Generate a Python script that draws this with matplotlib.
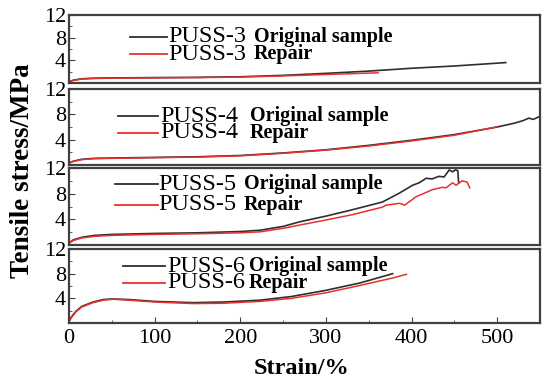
import numpy as np
import matplotlib
matplotlib.use('Agg')
import matplotlib.pyplot as plt
from matplotlib.ticker import MultipleLocator

plt.rcParams['font.family'] = 'Liberation Serif'

# datos (deformacion %, tension MPa)
puss3_orig_x = [0, 5, 15, 30, 50, 100, 150, 200, 250, 300, 350, 400, 450, 510]
puss3_orig_y = [0.2, 0.5, 0.75, 0.85, 0.9, 0.95, 1.0, 1.1, 1.35, 1.7, 2.1, 2.6, 3.0, 3.6]
puss3_rep_x = [0, 5, 15, 30, 50, 100, 150, 200, 250, 300, 361]
puss3_rep_y = [0.2, 0.45, 0.7, 0.8, 0.85, 0.9, 0.95, 1.05, 1.25, 1.5, 1.8]

puss4_orig_x = [0, 5, 15, 30, 50, 100, 150, 200, 250, 300, 350, 400, 450, 500, 520, 530, 537, 542, 547, 550]
puss4_orig_y = [0.3, 0.6, 0.9, 1.05, 1.1, 1.2, 1.3, 1.5, 1.9, 2.4, 3.1, 3.9, 4.8, 6.0, 6.6, 7.0, 7.4, 7.2, 7.5, 7.7]
puss4_rep_x = [0, 5, 15, 30, 50, 100, 150, 200, 250, 300, 350, 400, 450, 499]
puss4_rep_y = [0.3, 0.55, 0.85, 1.0, 1.05, 1.15, 1.25, 1.45, 1.85, 2.35, 3.0, 3.8, 4.7, 6.0]

puss5_orig_x = [0, 5, 15, 30, 50, 100, 150, 200, 223, 250, 269, 300, 328, 366, 386, 401, 409, 417, 424, 432, 438, 444, 448, 451, 454, 455]
puss5_orig_y = [0.3, 0.8, 1.2, 1.5, 1.65, 1.8, 1.9, 2.1, 2.3, 2.9, 3.6, 4.5, 5.4, 6.7, 8.1, 9.3, 9.7, 10.4, 10.3, 10.7, 10.6, 11.7, 11.4, 11.7, 11.6, 9.7]
puss5_rep_x = [0, 5, 15, 30, 50, 100, 150, 200, 223, 250, 269, 300, 330, 366, 370, 386, 392, 405, 424, 436, 440, 448, 452, 459, 465, 468]
puss5_rep_y = [0.3, 0.7, 1.1, 1.35, 1.5, 1.65, 1.75, 1.9, 2.05, 2.6, 3.1, 3.9, 4.7, 5.9, 6.2, 6.5, 6.2, 7.5, 8.6, 9.0, 8.9, 9.7, 9.3, 10.0, 9.8, 8.9]

puss6_orig_x = [0, 3, 8, 15, 28, 40, 51, 70, 100, 145, 180, 223, 260, 300, 340, 378]
puss6_orig_y = [0.3, 1.0, 1.9, 2.7, 3.4, 3.8, 3.9, 3.8, 3.5, 3.3, 3.4, 3.7, 4.3, 5.3, 6.5, 8.0]
puss6_rep_x = [0, 3, 8, 15, 28, 40, 51, 70, 100, 145, 180, 223, 260, 300, 340, 378, 394]
puss6_rep_y = [0.3, 0.9, 1.8, 2.6, 3.3, 3.7, 3.85, 3.7, 3.4, 3.15, 3.2, 3.5, 4.0, 4.9, 6.1, 7.3, 7.9]

nombres = ['PUSS-3', 'PUSS-4', 'PUSS-5', 'PUSS-6']
originales = [(puss3_orig_x, puss3_orig_y), (puss4_orig_x, puss4_orig_y),
              (puss5_orig_x, puss5_orig_y), (puss6_orig_x, puss6_orig_y)]
reparados = [(puss3_rep_x, puss3_rep_y), (puss4_rep_x, puss4_rep_y),
             (puss5_rep_x, puss5_rep_y), (puss6_rep_x, puss6_rep_y)]

W, H = 550, 389
fig = plt.figure(figsize=(5.5, 3.89), dpi=100)

# limites de paneles en pixeles (arriba, abajo)
paneles = [(15, 83), (89, 165), (168, 245), (249, 323)]
# leyenda: x inicio linea, x fin, y negro, y rojo, x texto, x texto negrita
leyendas = [(130, 167, 37, 54, 168, 254),
            (118, 158, 116, 133, 160, 250),
            (115, 158, 184, 205, 158, 244),
            (123, 165, 266, 283, 167, 249)]

negro = '#2e2e2e'
rojo = '#e8302c'

def fx(x):
    return x / W

def fy(y):
    return 1 - y / H

for i, (top, bot) in enumerate(paneles):
    ax = fig.add_axes([fx(69), fy(bot), fx(540) - fx(69), (bot - top) / H])
    ox, oy = originales[i]
    rx, ry = reparados[i]
    ax.plot(ox, oy, color=negro, lw=1.2)
    ax.plot(rx, ry, color=rojo, lw=1.1)
    ax.set_xlim(0, 550)
    ax.set_ylim(0, 12)
    ax.set_yticks([4, 8, 12])
    ax.yaxis.set_minor_locator(MultipleLocator(2))
    ax.xaxis.set_major_locator(MultipleLocator(100))
    ax.xaxis.set_minor_locator(MultipleLocator(50))
    for s in ax.spines.values():
        s.set_color('#404040')
        s.set_linewidth(1.6)
    ax.tick_params(axis='y', which='both', direction='in', labelsize=16, pad=2, color='#404040')
    ax.tick_params(axis='y', which='major', length=4)
    ax.tick_params(axis='y', which='minor', length=2)
    if i < 3:
        ax.tick_params(axis='x', which='both', bottom=False, labelbottom=False)
    else:
        ax.tick_params(axis='x', which='both', direction='in', labelsize=16, pad=4, color='#404040')
        ax.tick_params(axis='x', which='major', length=4)
        ax.tick_params(axis='x', which='minor', length=2)

    x0, x1, yn, yr, xt, xb = leyendas[i]
    ax.plot([fx(x0), fx(x1)], [fy(yn), fy(yn)], color=negro, lw=1.3, transform=fig.transFigure, clip_on=False)
    ax.plot([fx(x0), fx(x1)], [fy(yr), fy(yr)], color=rojo, lw=1.3, transform=fig.transFigure, clip_on=False)
    fig.text(fx(xt), fy(yn), nombres[i], fontsize=17.5, va='center', ha='left')
    fig.text(fx(xt), fy(yr), nombres[i], fontsize=17.5, va='center', ha='left')
    fig.text(fx(xb), fy(yn), 'Original sample', fontsize=14.5, fontweight='bold', va='center', ha='left')
    fig.text(fx(xb), fy(yr), 'Repair', fontsize=14.5, fontweight='bold', va='center', ha='left')

fig.text(fx(23), fy(171), 'Tensile stress/MPa', rotation=90, fontsize=19.5, fontweight='bold', va='center', ha='center')
fig.text(fx(302), fy(369), 'Strain/%', fontsize=17.5, fontweight='bold', va='center', ha='center')

fig.savefig('out.png', dpi=100)
